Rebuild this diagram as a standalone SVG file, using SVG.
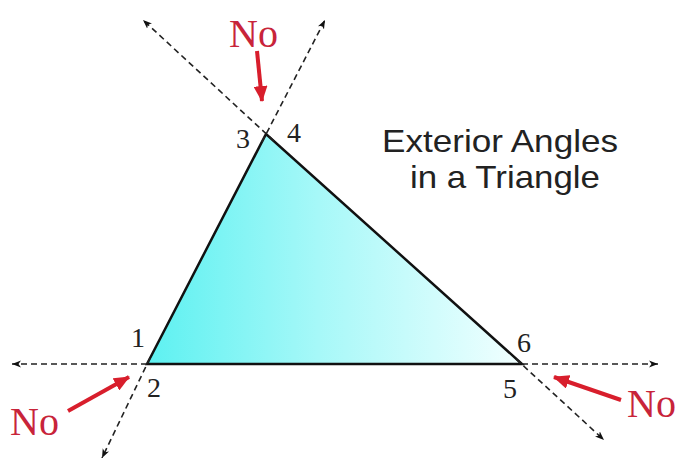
<svg xmlns="http://www.w3.org/2000/svg" width="675" height="458" viewBox="0 0 675 458">
  <defs>
    <linearGradient id="fillGrad" gradientUnits="userSpaceOnUse" x1="150" y1="300" x2="522" y2="300">
      <stop offset="0" stop-color="#5ef1f1"/>
      <stop offset="0.45" stop-color="#a6f8f8"/>
      <stop offset="1" stop-color="#f2ffff"/>
    </linearGradient>
    <marker id="dashHead" markerUnits="userSpaceOnUse" markerWidth="10" markerHeight="8" refX="9" refY="4" orient="auto">
      <path d="M0,0.5 L9,4 L0,7.5 L2.5,4 Z" fill="#111"/>
    </marker>
    <marker id="redHead" markerUnits="userSpaceOnUse" markerWidth="16" markerHeight="14" refX="15" refY="7" orient="auto">
      <path d="M0,0 L16,7 L0,14 Z" fill="#d81e2c"/>
    </marker>
    <style>
      .dash { fill: none; stroke: #222; stroke-width: 1.6; stroke-dasharray: 6 4; marker-end: url(#dashHead); }
      .red { fill: none; stroke: #d81e2c; stroke-width: 4; marker-end: url(#redHead); }
      .num { font-family: "Liberation Serif", "Times New Roman", serif; font-size: 28px; fill: #222; }
      .no { font-family: "Liberation Serif", "Times New Roman", serif; font-size: 40px; fill: #c8243a; }
      .title { font-family: "Liberation Sans", Arial, sans-serif; font-size: 32px; fill: #222; }
    </style>
  </defs>
  <rect width="675" height="458" fill="#ffffff"/>

  <g id="triangle">
    <polygon points="147,364 266,134 522,364" fill="url(#fillGrad)" stroke="#111" stroke-width="2.5" stroke-linejoin="miter"/>
  </g>

  <g id="connectors">
    <line class="dash" x1="147" y1="364" x2="12" y2="364"/>
    <line class="dash" x1="522" y1="364" x2="658" y2="364"/>
    <line class="dash" x1="150" y1="358" x2="102" y2="458"/>
    <line class="dash" x1="262" y1="142" x2="325" y2="20"/>
    <line class="dash" x1="274" y1="141" x2="143" y2="20"/>
    <line class="dash" x1="516" y1="359" x2="604" y2="440"/>
    <line class="red" x1="257" y1="51" x2="262" y2="101"/>
    <line class="red" x1="68" y1="411" x2="129" y2="377"/>
    <line class="red" x1="621" y1="400" x2="554" y2="377"/>
  </g>

  <g id="angle-labels">
    <text class="num" x="236" y="148">3</text>
    <text class="num" x="287" y="142">4</text>
    <text class="num" x="131" y="347">1</text>
    <text class="num" x="147" y="397">2</text>
    <text class="num" x="517" y="352">6</text>
    <text class="num" x="503" y="398">5</text>
  </g>

  <g id="no-top"><text class="no" x="229" y="47">No</text></g>
  <g id="no-left"><text class="no" x="10" y="435">No</text></g>
  <g id="no-right"><text class="no" x="627" y="417">No</text></g>

  <g id="title">
    <text class="title" x="382" y="152" textLength="236" lengthAdjust="spacingAndGlyphs">Exterior Angles</text>
    <text class="title" x="410" y="188" textLength="190" lengthAdjust="spacingAndGlyphs">in a Triangle</text>
  </g>
</svg>
